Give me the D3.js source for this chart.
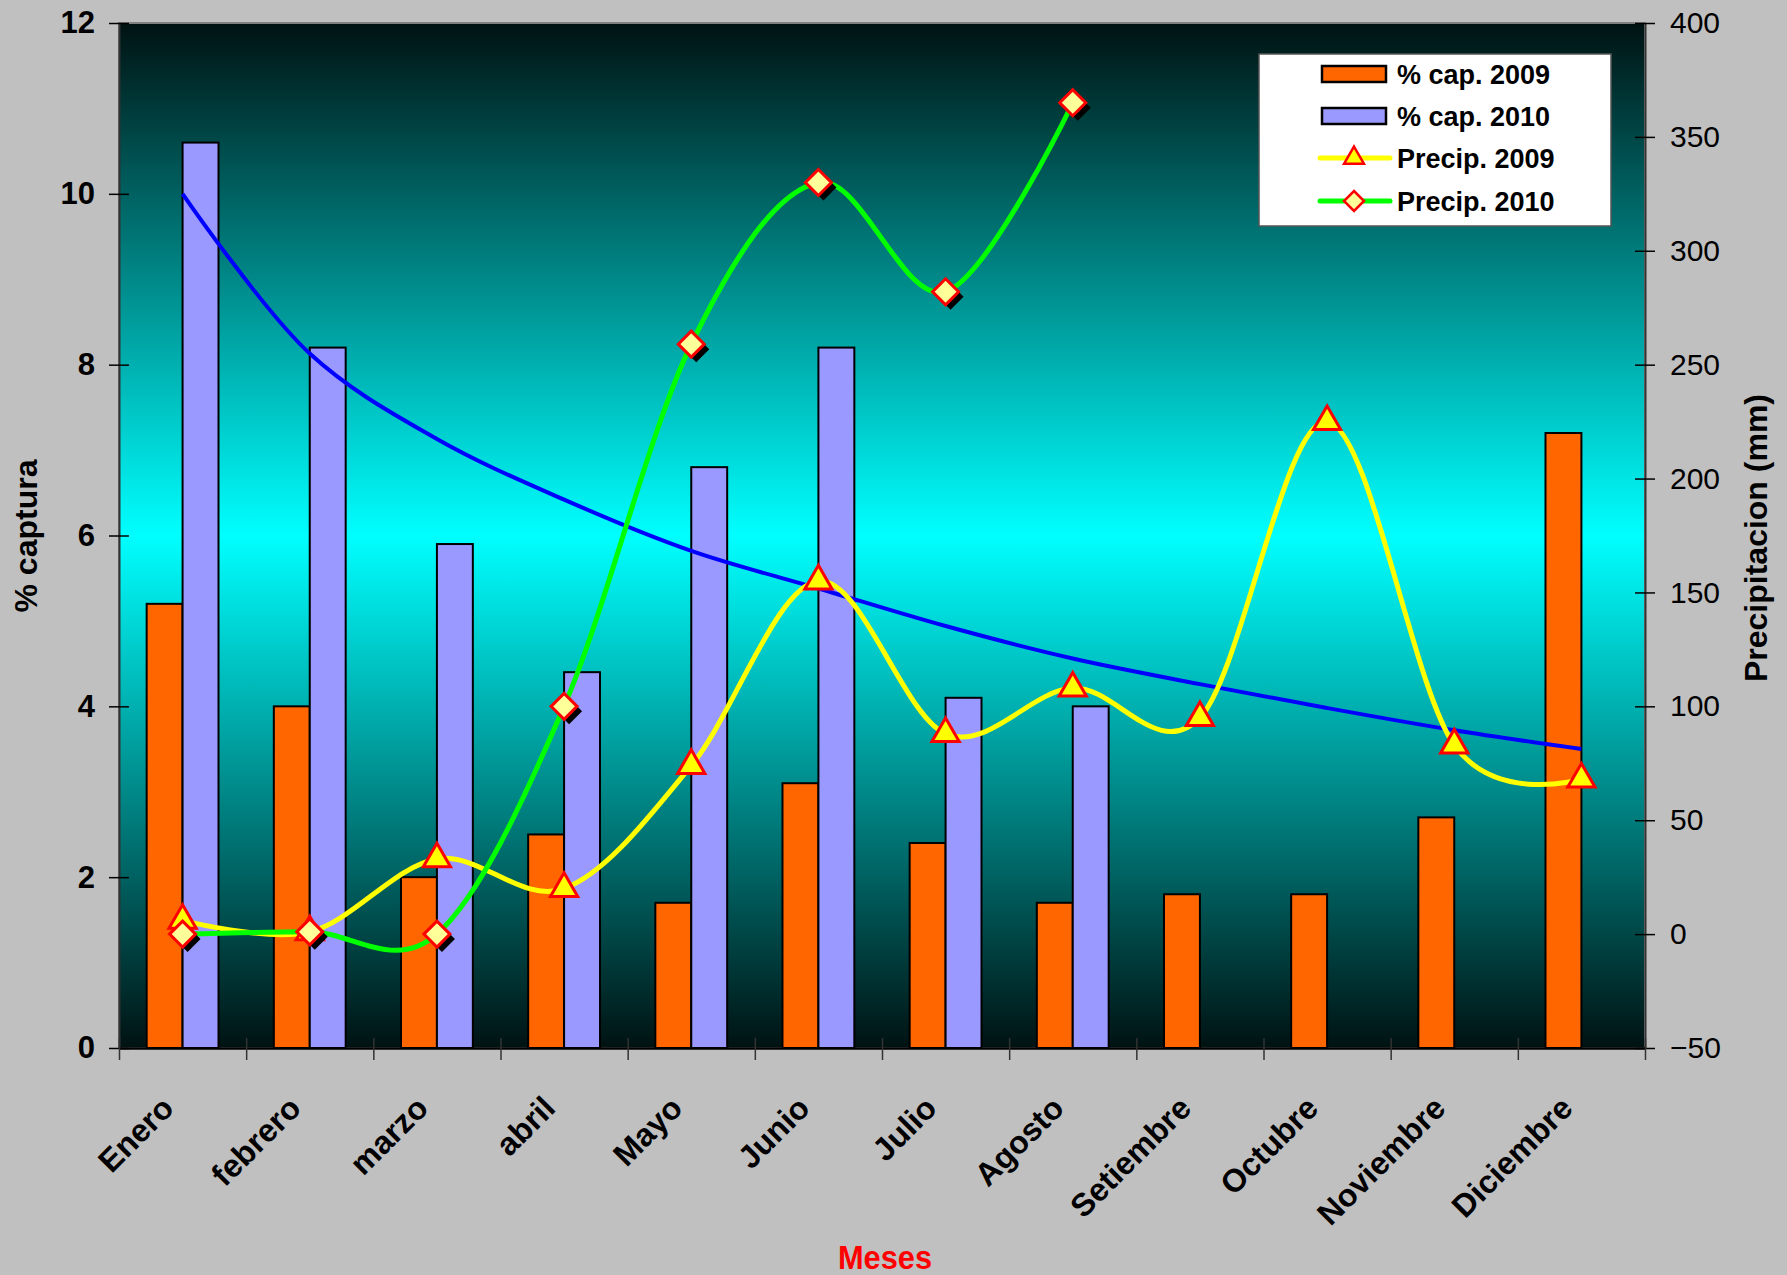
<!DOCTYPE html>
<html>
<head>
<meta charset="utf-8">
<script src="https://cdn.jsdelivr.net/npm/d3@7"></script>
<style>
  html, body { margin: 0; padding: 0; background: #c0c0c0; }
  svg { display: block; font-family: Arial, "Liberation Sans", Helvetica, sans-serif; }
</style>
</head>
<body>
<svg id="chart" width="1787" height="1275"></svg>
<script>
// Monthly capture percentages and rainfall
const months = ["Enero", "febrero", "marzo", "abril", "Mayo", "Junio", "Julio", "Agosto",
                "Setiembre", "Octubre", "Noviembre", "Diciembre"];
const capture2009 = [5.2, 4.0, 2.0, 2.5, 1.7, 3.1, 2.4, 1.7, 1.8, 1.8, 2.7, 7.2];
const capture2010 = [10.6, 8.2, 5.9, 4.4, 6.8, 8.2, 4.1, 4.0];
const precip2009 = [6, 1, 33, 20, 74, 155, 88, 108, 95, 225, 83, 68];
const precip2010 = [0, 1, 0, 100, 259, 330, 282, 365];
const captureTrend = [10.0, 8.13, 7.13, 6.42, 5.82, 5.38, 4.94, 4.56, 4.26, 3.98, 3.72, 3.5];
const leftTicks = [0, 2, 4, 6, 8, 10, 12];
const rightTicks = [-50, 0, 50, 100, 150, 200, 250, 300, 350, 400];
const legendLabels = ["% cap. 2009", "% cap. 2010", "Precip. 2009", "Precip. 2010"];

const svg = d3.select("#chart");
const W = 1787, H = 1275;
const plot = { left: 119, right: 1645, top: 23, bottom: 1048 };

svg.append("rect").attr("width", W).attr("height", H).attr("fill", "#c0c0c0");

// plot area gradient: dark -> cyan -> dark
const defs = svg.append("defs");
const grad = defs.append("linearGradient").attr("id", "plotBg")
  .attr("x1", 0).attr("y1", 0).attr("x2", 0).attr("y2", 1);
grad.append("stop").attr("offset", "0%").attr("stop-color", "#001212");
grad.append("stop").attr("offset", "50%").attr("stop-color", "#00ffff");
grad.append("stop").attr("offset", "100%").attr("stop-color", "#001212");

svg.append("rect")
  .attr("x", plot.left).attr("y", plot.top)
  .attr("width", plot.right - plot.left).attr("height", plot.bottom - plot.top)
  .attr("fill", "url(#plotBg)")
  .attr("stroke", "#808080").attr("stroke-width", 2);

// scales
const x = d3.scaleBand().domain(months).range([plot.left, plot.right]).padding(0);
const xSeries = d3.scaleBand().domain(["2009", "2010"]).range([0, x.bandwidth()])
  .paddingInner(0).paddingOuter(0.77);
const xEdge = d3.scaleLinear().domain([0, months.length]).range([plot.left, plot.right]);
const yL = d3.scaleLinear().domain([0, 12]).range([plot.bottom, plot.top]);
const yR = d3.scaleLinear().domain([-50, 400]).range([plot.bottom, plot.top]);
const cx = m => x(m) + x.bandwidth() / 2;

// bars
const bars = svg.append("g");
bars.selectAll("rect.b09").data(capture2009).join("rect")
  .attr("x", (d, i) => x(months[i]) + xSeries("2009"))
  .attr("y", d => yL(d))
  .attr("width", xSeries.bandwidth())
  .attr("height", d => yL(0) - yL(d))
  .attr("fill", "#ff6600").attr("stroke", "#000").attr("stroke-width", 2);
bars.selectAll("rect.b10").data(capture2010).join("rect")
  .attr("x", (d, i) => x(months[i]) + xSeries("2010"))
  .attr("y", d => yL(d))
  .attr("width", xSeries.bandwidth())
  .attr("height", d => yL(0) - yL(d))
  .attr("fill", "#9999ff").attr("stroke", "#000").attr("stroke-width", 2);

// axes
const axL = svg.append("g").attr("transform", `translate(${plot.left},0)`)
  .call(d3.axisLeft(yL).tickValues(leftTicks).tickSize(10).tickSizeOuter(0).tickPadding(14));
axL.select(".domain").attr("stroke", "#333").attr("stroke-width", 2);
axL.selectAll(".tick line").attr("x1", 10).attr("stroke", "#000").attr("stroke-width", 1.5);
axL.selectAll(".tick text").attr("font-size", 31).attr("font-weight", "bold")
  .attr("fill", "#000").attr("font-family", "Arial, 'Liberation Sans', sans-serif");

const axR = svg.append("g").attr("transform", `translate(${plot.right},0)`)
  .call(d3.axisRight(yR).tickValues(rightTicks).tickSize(10).tickSizeOuter(0).tickPadding(15));
axR.select(".domain").attr("stroke", "#333").attr("stroke-width", 2);
axR.selectAll(".tick line").attr("x1", -10).attr("stroke", "#000").attr("stroke-width", 1.5);
axR.selectAll(".tick text").attr("font-size", 30)
  .attr("fill", "#000").attr("font-family", "Arial, 'Liberation Sans', sans-serif");

const axB = svg.append("g").attr("transform", `translate(0,${plot.bottom})`)
  .call(d3.axisBottom(xEdge).tickValues(d3.range(0, months.length + 1)).tickSize(12)
    .tickSizeOuter(0).tickFormat(""));
axB.select(".domain").attr("stroke", "#000").attr("stroke-width", 2.5);
axB.selectAll(".tick line").attr("y1", -10).attr("stroke", "#333").attr("stroke-width", 1.5);

// month labels
svg.append("g").selectAll("text").data(months).join("text")
  .attr("transform", d => `translate(${cx(d) - 23},${plot.bottom + 46}) rotate(-45)`)
  .attr("text-anchor", "end").attr("dy", "0.71em")
  .attr("font-size", 32).attr("font-weight", "bold").attr("fill", "#000")
  .text(d => d);

// axis titles
svg.append("text").attr("transform", "translate(26,536) rotate(-90)")
  .attr("text-anchor", "middle").attr("dominant-baseline", "central")
  .attr("font-size", 32).attr("font-weight", "bold").text("% captura");
svg.append("text").attr("transform", "translate(1756,538) rotate(-90)")
  .attr("text-anchor", "middle").attr("dominant-baseline", "central")
  .attr("font-size", 32).attr("font-weight", "bold").text("Precipitacion (mm)");
svg.append("text").attr("x", 885).attr("y", 1269)
  .attr("text-anchor", "middle").attr("font-size", 34).attr("font-weight", "bold")
  .attr("fill", "#ff0000").attr("textLength", 94).attr("lengthAdjust", "spacingAndGlyphs")
  .text("Meses");

// trend line of capture
const trendLine = d3.line().x((d, i) => cx(months[i])).y(d => yL(d)).curve(d3.curveCatmullRom.alpha(0.5));
svg.append("path").datum(captureTrend).attr("d", trendLine)
  .attr("fill", "none").attr("stroke", "#0000ff").attr("stroke-width", 4);

// precipitation lines
const precipLine = d3.line().x((d, i) => cx(months[i])).y(d => yR(d)).curve(d3.curveCardinal.tension(0));
svg.append("path").datum(precip2009).attr("d", precipLine)
  .attr("fill", "none").attr("stroke", "#ffff00").attr("stroke-width", 5).attr("stroke-linejoin", "round");
svg.append("path").datum(precip2010).attr("d", precipLine)
  .attr("fill", "none").attr("stroke", "#00ff00").attr("stroke-width", 5).attr("stroke-linejoin", "round");

const tri = d3.symbol().type(d3.symbolTriangle).size(320);
const dia = "M0,-13L13,0L0,13L-13,0Z";

svg.append("g").selectAll("path").data(precip2009).join("path")
  .attr("transform", (d, i) => `translate(${cx(months[i])},${yR(d)})`)
  .attr("d", tri())
  .attr("fill", "#ffff00").attr("stroke", "#ff0000").attr("stroke-width", 3);

const dg = svg.append("g");
dg.selectAll("path.sh").data(precip2010).join("path")
  .attr("transform", (d, i) => `translate(${cx(months[i]) + 5},${yR(d) + 5})`)
  .attr("d", dia).attr("fill", "#000");
dg.selectAll("path.mk").data(precip2010).join("path")
  .attr("transform", (d, i) => `translate(${cx(months[i])},${yR(d)})`)
  .attr("d", dia)
  .attr("fill", "#ffff99").attr("stroke", "#ff0000").attr("stroke-width", 3);

// legend
const lg = svg.append("g");
lg.append("rect").attr("x", 1259).attr("y", 54).attr("width", 352).attr("height", 172)
  .attr("fill", "#fff").attr("stroke", "#555").attr("stroke-width", 1.5);
const rowY = [74, 116, 158, 201];
lg.append("rect").attr("x", 1322).attr("y", rowY[0] - 8).attr("width", 64).attr("height", 16)
  .attr("fill", "#ff6600").attr("stroke", "#000").attr("stroke-width", 2.5);
lg.append("rect").attr("x", 1322).attr("y", rowY[1] - 8).attr("width", 64).attr("height", 16)
  .attr("fill", "#9999ff").attr("stroke", "#000").attr("stroke-width", 2.5);
lg.append("line").attr("x1", 1320).attr("x2", 1390).attr("y1", rowY[2]).attr("y2", rowY[2])
  .attr("stroke", "#ffff00").attr("stroke-width", 5).attr("stroke-linecap", "round");
lg.append("path").attr("transform", `translate(1354,${rowY[2]})`).attr("d", d3.symbol().type(d3.symbolTriangle).size(170)())
  .attr("fill", "#ffff00").attr("stroke", "#ff0000").attr("stroke-width", 2.5);
lg.append("line").attr("x1", 1320).attr("x2", 1390).attr("y1", rowY[3]).attr("y2", rowY[3])
  .attr("stroke", "#00ff00").attr("stroke-width", 5).attr("stroke-linecap", "round");
lg.append("path").attr("transform", `translate(1354,${rowY[3]})`).attr("d", "M0,-10L10,0L0,10L-10,0Z")
  .attr("fill", "#ffff99").attr("stroke", "#ff0000").attr("stroke-width", 2.5);
lg.selectAll("text").data(legendLabels).join("text")
  .attr("x", 1397).attr("y", (d, i) => rowY[i]).attr("dy", "0.36em")
  .attr("font-size", 27).attr("font-weight", "bold").attr("fill", "#000")
  .text(d => d);
</script>
</body>
</html>
